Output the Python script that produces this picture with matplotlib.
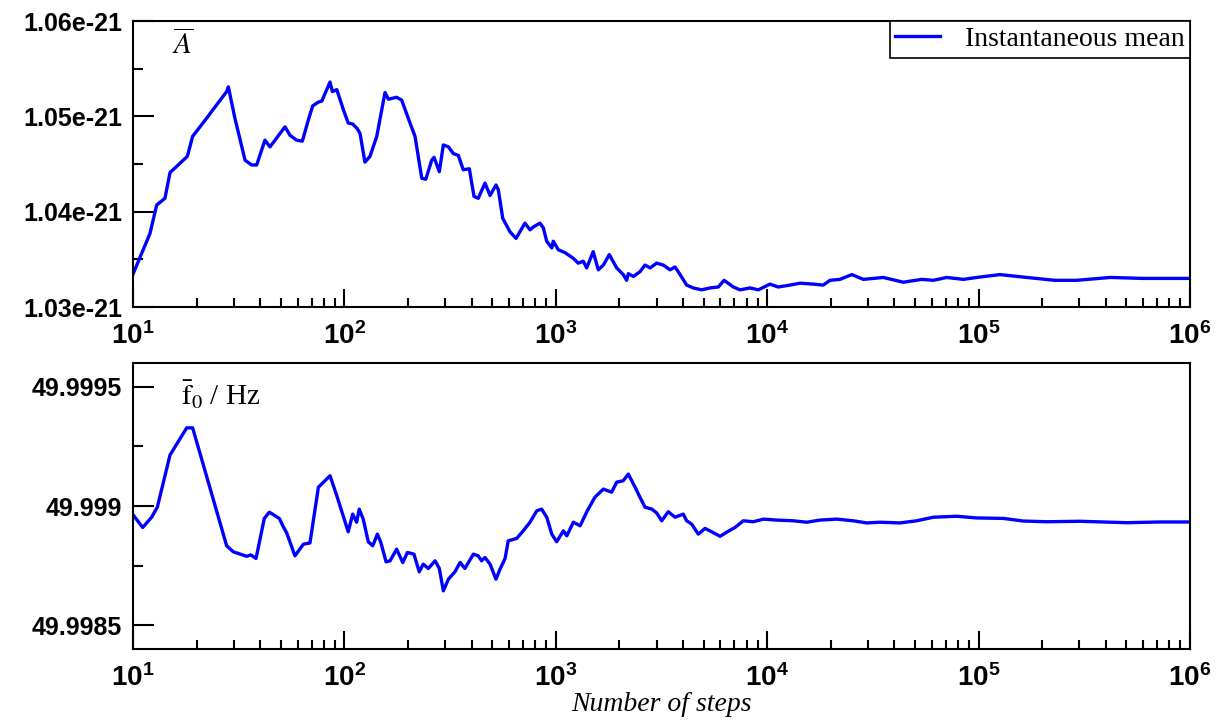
#!/usr/bin/env python3

import numpy as np
import matplotlib
matplotlib.use("Agg")
import matplotlib.pyplot as plt
from matplotlib.ticker import FuncFormatter, MultipleLocator, LogLocator, NullFormatter

plt.rcParams["font.family"] = ["Liberation Sans", "DejaVu Sans"]
plt.rcParams["mathtext.fontset"] = "custom"
plt.rcParams["mathtext.bf"] = "Liberation Sans:bold"
plt.rcParams["mathtext.rm"] = "Liberation Sans:bold"

# log10(number of steps) and running mean amplitude (units of 1e-21)
log_steps_A = [1.001, 1.080, 1.112, 1.151, 1.175, 1.257, 1.282, 1.341, 1.443, 1.451,
               1.482, 1.530, 1.561, 1.585, 1.624, 1.648, 1.719, 1.743, 1.774, 1.801,
               1.829, 1.850, 1.877, 1.893, 1.932, 1.943, 1.964, 1.995, 2.018, 2.039,
               2.061, 2.074, 2.097, 2.121, 2.153, 2.192, 2.208, 2.247, 2.271, 2.302,
               2.334, 2.366, 2.385, 2.413, 2.424, 2.449, 2.468, 2.492, 2.515, 2.539,
               2.562, 2.591, 2.613, 2.633, 2.665, 2.689, 2.717, 2.728, 2.749, 2.783,
               2.812, 2.854, 2.878, 2.894, 2.925, 2.941, 2.957, 2.981, 2.988, 3.012,
               3.044, 3.083, 3.106, 3.130, 3.146, 3.177, 3.201, 3.225, 3.253, 3.288,
               3.319, 3.335, 3.343, 3.367, 3.398, 3.422, 3.446, 3.477, 3.509, 3.540,
               3.564, 3.588, 3.619, 3.650, 3.690, 3.729, 3.769, 3.796, 3.840, 3.871,
               3.919, 3.958, 4.013, 4.052, 4.108, 4.155, 4.218, 4.265, 4.297, 4.344,
               4.400, 4.455, 4.549, 4.644, 4.731, 4.786, 4.849, 4.928, 4.991, 5.101,
               5.228, 5.361, 5.464, 5.622, 5.779, 6.000]
mean_A = [1.0335, 1.0377, 1.0407, 1.0414, 1.0441, 1.0458, 1.0479, 1.0496, 1.0526, 1.0531,
          1.0498, 1.0454, 1.0449, 1.0449, 1.0475, 1.0468, 1.0489, 1.0480, 1.0475, 1.0474,
          1.0496, 1.0511, 1.0515, 1.0516, 1.0536, 1.0526, 1.0528, 1.0507, 1.0493, 1.0492,
          1.0487, 1.0482, 1.0452, 1.0458, 1.0479, 1.0525, 1.0518, 1.0520, 1.0517, 1.0498,
          1.0479, 1.0435, 1.0434, 1.0454, 1.0457, 1.0442, 1.0470, 1.0468, 1.0461, 1.0459,
          1.0444, 1.0445, 1.0416, 1.0414, 1.0430, 1.0417, 1.0428, 1.0423, 1.0393, 1.0379,
          1.0372, 1.0388, 1.0381, 1.0384, 1.0388, 1.0383, 1.0369, 1.0362, 1.0369, 1.0360,
          1.0357, 1.0351, 1.0346, 1.0348, 1.0341, 1.0358, 1.0339, 1.0344, 1.0355, 1.0341,
          1.0334, 1.0328, 1.0335, 1.0332, 1.0337, 1.0344, 1.0341, 1.0346, 1.0344, 1.0339,
          1.0342, 1.0334, 1.0323, 1.0320, 1.0318, 1.0320, 1.0321, 1.0328, 1.0321, 1.0318,
          1.0320, 1.0318, 1.0324, 1.0321, 1.0323, 1.0325, 1.0324, 1.0323, 1.0328, 1.0329,
          1.0334, 1.0329, 1.0331, 1.0326, 1.0329, 1.0328, 1.0331, 1.0329, 1.0331, 1.0334,
          1.0331, 1.0328, 1.0328, 1.0331, 1.0330, 1.0330]

# log10(number of steps) and running mean frequency (Hz)
log_steps_f = [1.001, 1.046, 1.088, 1.115, 1.175, 1.254, 1.282, 1.443, 1.474, 1.538,
               1.557, 1.582, 1.621, 1.645, 1.692, 1.711, 1.727, 1.766, 1.806, 1.837,
               1.877, 1.932, 1.964, 2.018, 2.039, 2.058, 2.070, 2.089, 2.113, 2.134,
               2.156, 2.172, 2.197, 2.216, 2.247, 2.276, 2.298, 2.329, 2.354, 2.373,
               2.397, 2.429, 2.449, 2.468, 2.492, 2.523, 2.547, 2.570, 2.610, 2.633,
               2.649, 2.665, 2.689, 2.717, 2.736, 2.760, 2.775, 2.815, 2.846, 2.878,
               2.910, 2.933, 2.957, 2.981, 3.004, 3.036, 3.052, 3.083, 3.115, 3.149,
               3.185, 3.225, 3.264, 3.288, 3.319, 3.343, 3.375, 3.398, 3.422, 3.454,
               3.477, 3.501, 3.532, 3.564, 3.603, 3.619, 3.643, 3.674, 3.706, 3.737,
               3.777, 3.808, 3.848, 3.887, 3.934, 3.982, 4.045, 4.123, 4.187, 4.250,
               4.329, 4.407, 4.471, 4.534, 4.628, 4.707, 4.786, 4.896, 4.991, 5.117,
               5.211, 5.322, 5.480, 5.701, 5.858, 6.000]
mean_f = [49.998962, 49.998910, 49.998953, 49.998995, 49.999214, 49.999328, 49.999328, 49.998833, 49.998808, 49.998789,
          49.998795, 49.998780, 49.998948, 49.998974, 49.998948, 49.998913, 49.998887, 49.998791, 49.998840, 49.998845,
          49.999079, 49.999127, 49.999043, 49.998892, 49.998966, 49.998932, 49.998987, 49.998945, 49.998850, 49.998833,
          49.998882, 49.998848, 49.998766, 49.998770, 49.998819, 49.998763, 49.998805, 49.998798, 49.998724, 49.998756,
          49.998738, 49.998770, 49.998738, 49.998644, 49.998693, 49.998724, 49.998763, 49.998738, 49.998798, 49.998791,
          49.998770, 49.998784, 49.998756, 49.998693, 49.998735, 49.998780, 49.998854, 49.998864, 49.998896, 49.998932,
          49.998980, 49.998987, 49.998953, 49.998882, 49.998850, 49.998896, 49.998875, 49.998932, 49.998917, 49.998980,
          49.999037, 49.999071, 49.999058, 49.999100, 49.999106, 49.999134, 49.999079, 49.999037, 49.998995, 49.998987,
          49.998971, 49.998938, 49.998976, 49.998953, 49.998966, 49.998938, 49.998924, 49.998882, 49.998906, 49.998892,
          49.998873, 49.998890, 49.998910, 49.998938, 49.998934, 49.998945, 49.998941, 49.998938, 49.998932, 49.998941,
          49.998945, 49.998938, 49.998929, 49.998932, 49.998929, 49.998938, 49.998953, 49.998957, 49.998950, 49.998948,
          49.998937, 49.998934, 49.998936, 49.998930, 49.998933, 49.998933]

LINE_COLOR = "#0000ff"
YTICK_SIZE = 18
XTICK_SIZE = 20


def styleAxis(ax, ylim, major, minor, fmt):
    """
    Applies the shared xmgrace-like styling to one panel
    """
    ax.set_xscale("log")
    ax.set_xlim(10, 1e6)
    ax.set_ylim(*ylim)

    ax.xaxis.set_major_locator(LogLocator(base=10, numticks=10))
    ax.xaxis.set_minor_locator(LogLocator(base=10, subs=np.arange(2, 10), numticks=20))
    ax.xaxis.set_minor_formatter(NullFormatter())
    ax.xaxis.set_major_formatter(FuncFormatter(lambda v, p: r"$\mathbf{10^{%d}}$" % round(np.log10(v))))

    ax.yaxis.set_major_locator(MultipleLocator(major))
    ax.yaxis.set_minor_locator(MultipleLocator(minor))
    ax.yaxis.set_major_formatter(FuncFormatter(fmt))

    ax.tick_params(which="both", direction="in", top=False, right=False, width=1.5, colors="black")
    ax.tick_params(axis="y", which="major", length=15, pad=8, labelsize=YTICK_SIZE)
    ax.tick_params(axis="y", which="minor", length=7.5)
    ax.tick_params(axis="x", which="major", length=13, pad=11, labelsize=XTICK_SIZE)
    ax.tick_params(axis="x", which="minor", length=6.5)
    for lab in ax.get_yticklabels():
        lab.set_fontweight("bold")
    for sp in ax.spines.values():
        sp.set_linewidth(1.5)
        sp.set_color("black")


fig = plt.figure(figsize=(12.17, 7.20), dpi=100)
ax1 = fig.add_axes([0.1093, 0.5736, 0.8685, 0.3972])
ax2 = fig.add_axes([0.1093, 0.0986, 0.8685, 0.3972])

# Upper panel: mean amplitude
ax1.plot(10 ** np.array(log_steps_A), np.array(mean_A) * 1e-21,
         color=LINE_COLOR, lw=2.4, label="Instantaneous mean")
styleAxis(ax1, (1.03e-21, 1.06e-21), 0.01e-21, 0.005e-21, lambda v, p: "%.3g" % v)
ax1.text(0.037, 0.97, r"$\overline{A}$", transform=ax1.transAxes, ha="left", va="top",
         fontsize=21, math_fontfamily="stix")

leg = ax1.legend(loc="upper right", borderaxespad=0, fancybox=False, framealpha=1,
                 edgecolor="black", handlelength=1.6, handletextpad=0.9, borderpad=0.2,
                 prop={"family": "Liberation Serif", "size": 20})
leg.get_frame().set_linewidth(1.2)

# Lower panel: mean frequency
ax2.plot(10 ** np.array(log_steps_f), mean_f, color=LINE_COLOR, lw=2.4)
styleAxis(ax2, (49.9984, 49.9996), 0.0005, 0.00025, lambda v, p: "%g" % round(v, 5))
ax2.text(0.045, 0.945, r"$\bar{\mathrm{f}}_{0}$ / Hz", transform=ax2.transAxes, ha="left", va="top",
         fontsize=21, family="Liberation Serif", math_fontfamily="stix")

ax2.set_xlabel("Number of steps", fontsize=20, family="Liberation Serif", style="italic", labelpad=0)

fig.savefig("out.png", dpi=100)
